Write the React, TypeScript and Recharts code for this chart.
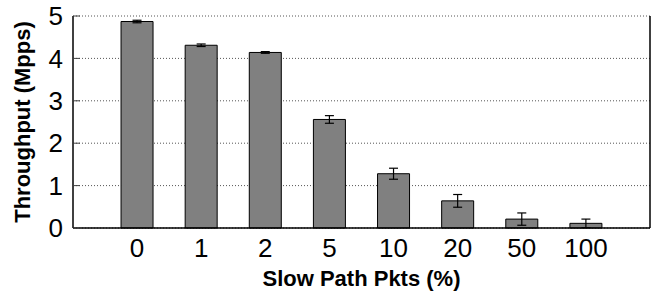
import { BarChart, Bar, XAxis, YAxis, CartesianGrid, ErrorBar } from "recharts";

// percentuale di pacchetti sullo slow path
const categories = ["0", "1", "2", "5", "10", "20", "50", "100"];
const throughput = [4.87, 4.31, 4.14, 2.56, 1.28, 0.64, 0.21, 0.11];
const errors = [0.03, 0.03, 0.02, 0.09, 0.13, 0.15, 0.145, 0.1];
const yTicks = [0, 1, 2, 3, 4, 5];

const data = categories.map((c, i) => ({ name: c, mpps: throughput[i], err: errors[i] }));

const font = "'Liberation Sans', Arial, Helvetica, sans-serif";
const axisLine = { stroke: "#000", strokeWidth: 1.5 };
const innerTick = { stroke: "#444", strokeWidth: 1 };

export default function App() {
  return (
    <div style={{ position: "absolute", left: 0, top: 0, width: 653, height: 295, background: "#fff" }}>
      <BarChart
        width={653}
        height={295}
        data={data}
        margin={{ top: 16, right: 0, bottom: 0, left: 0 }}
        barCategoryGap="25%"
        style={{ fontFamily: font }}
      >
        <CartesianGrid horizontal vertical={false} stroke="#555" strokeDasharray="1 2" />
        <XAxis
          dataKey="name"
          height={67}
          padding={{ left: 32, right: 32 }}
          axisLine={axisLine}
          tickLine={false}
          tickSize={0}
          tickMargin={11}
          tick={{ fill: "#000", fontSize: 26, fontFamily: font }}
          label={{
            value: "Slow Path Pkts (%)",
            position: "insideBottom",
            offset: 9,
            style: { fill: "#000", fontSize: 22, fontWeight: "bold", fontFamily: font },
          }}
        />
        <XAxis
          xAxisId="top"
          orientation="top"
          dataKey="name"
          height={0}
          padding={{ left: 32, right: 32 }}
          axisLine={axisLine}
          tickLine={innerTick}
          tickSize={-7}
          tickFormatter={() => ""}
        />
        <YAxis
          width={73}
          domain={[0, 5]}
          ticks={yTicks}
          interval={0}
          axisLine={axisLine}
          tickLine={innerTick}
          tickSize={-7}
          tickMargin={17}
          tick={{ fill: "#000", fontSize: 26, fontFamily: font }}
          label={{
            value: "Throughput (Mpps)",
            angle: -90,
            position: "insideLeft",
            offset: 22,
            style: { textAnchor: "middle", fill: "#000", fontSize: 22, fontWeight: "bold", fontFamily: font },
          }}
        />
        <YAxis
          yAxisId="r"
          orientation="right"
          width={3}
          domain={[0, 5]}
          ticks={yTicks}
          interval={0}
          axisLine={axisLine}
          tickLine={innerTick}
          tickSize={-7}
          tickFormatter={() => ""}
        />
        <Bar dataKey="mpps" fill="#808080" stroke="#000" strokeWidth={1} isAnimationActive={false}>
          <ErrorBar dataKey="err" width={4.5} stroke="#000" strokeWidth={1.2} isAnimationActive={false} />
        </Bar>
      </BarChart>
    </div>
  );
}
